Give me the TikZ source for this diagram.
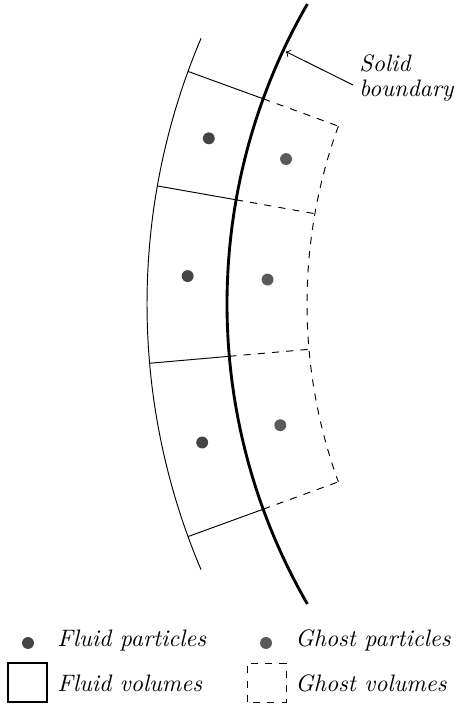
\documentclass[tikz,border=0pt]{standalone}
\usetikzlibrary{arrows, positioning, calc}
\definecolor{fluidgrey}{RGB}{68, 68, 68}
\definecolor{ghostgrey}{RGB}{90, 90, 90}

\begin{document}
\begin{tikzpicture}[x=0.42pt, y=0.42pt, font=\itshape]
    \useasboundingbox (0,0) rectangle (456,707);
    \coordinate (C) at (827,403);
    \draw[very thick] ($(C)+(150:600)$) arc[start angle=150, end angle=210, radius=600];
    \draw ($(C)+(157:680)$) arc[start angle=157, end angle=203, radius=680];
    \draw[dashed] ($(C)+(160:520)$) arc[start angle=160, end angle=200, radius=520];
    \foreach \a in {160,170,185,200} {
        \draw ($(C)+(\a:680)$) -- ($(C)+(\a:600)$);
        \draw[dashed] ($(C)+(\a:600)$) -- ($(C)+(\a:520)$);
    }
    \foreach \a in {165,177.5,192.5} {
        \fill[fluidgrey] ($(C)+(\a:640)$) circle (2.5pt);
        \fill[ghostgrey] ($(C)+(\a:560)$) circle (2.5pt);
    }
    \node[align=left, inner sep=0pt, anchor=west] (solid) at (359,629) {Solid\\[-1.7pt]boundary};
    \coordinate (solidtip) at ($(C)+(155:597)$);
    \draw[->] ([shift={(-6,-7)}]solid.west) -- (solidtip);
    \fill[fluidgrey] (28,64) circle (2.5pt);
    \node[anchor=base west, inner sep=0pt] (fluidp) at (57,60) {Fluid particles};
    \fill[ghostgrey] (266,64) circle (2.5pt);
    \node[anchor=base west, inner sep=0pt] (ghostp) at (295,60) {Ghost particles};
    \draw[semithick] (8,5) rectangle (47,44);
    \node[anchor=base west, inner sep=0pt] (fluidv) at (57,15) {Fluid volumes};
    \draw[dashed] (247,5) rectangle (286,44);
    \node[anchor=base west, inner sep=0pt] (ghostv) at (295,15) {Ghost volumes};
\end{tikzpicture}
\end{document}
